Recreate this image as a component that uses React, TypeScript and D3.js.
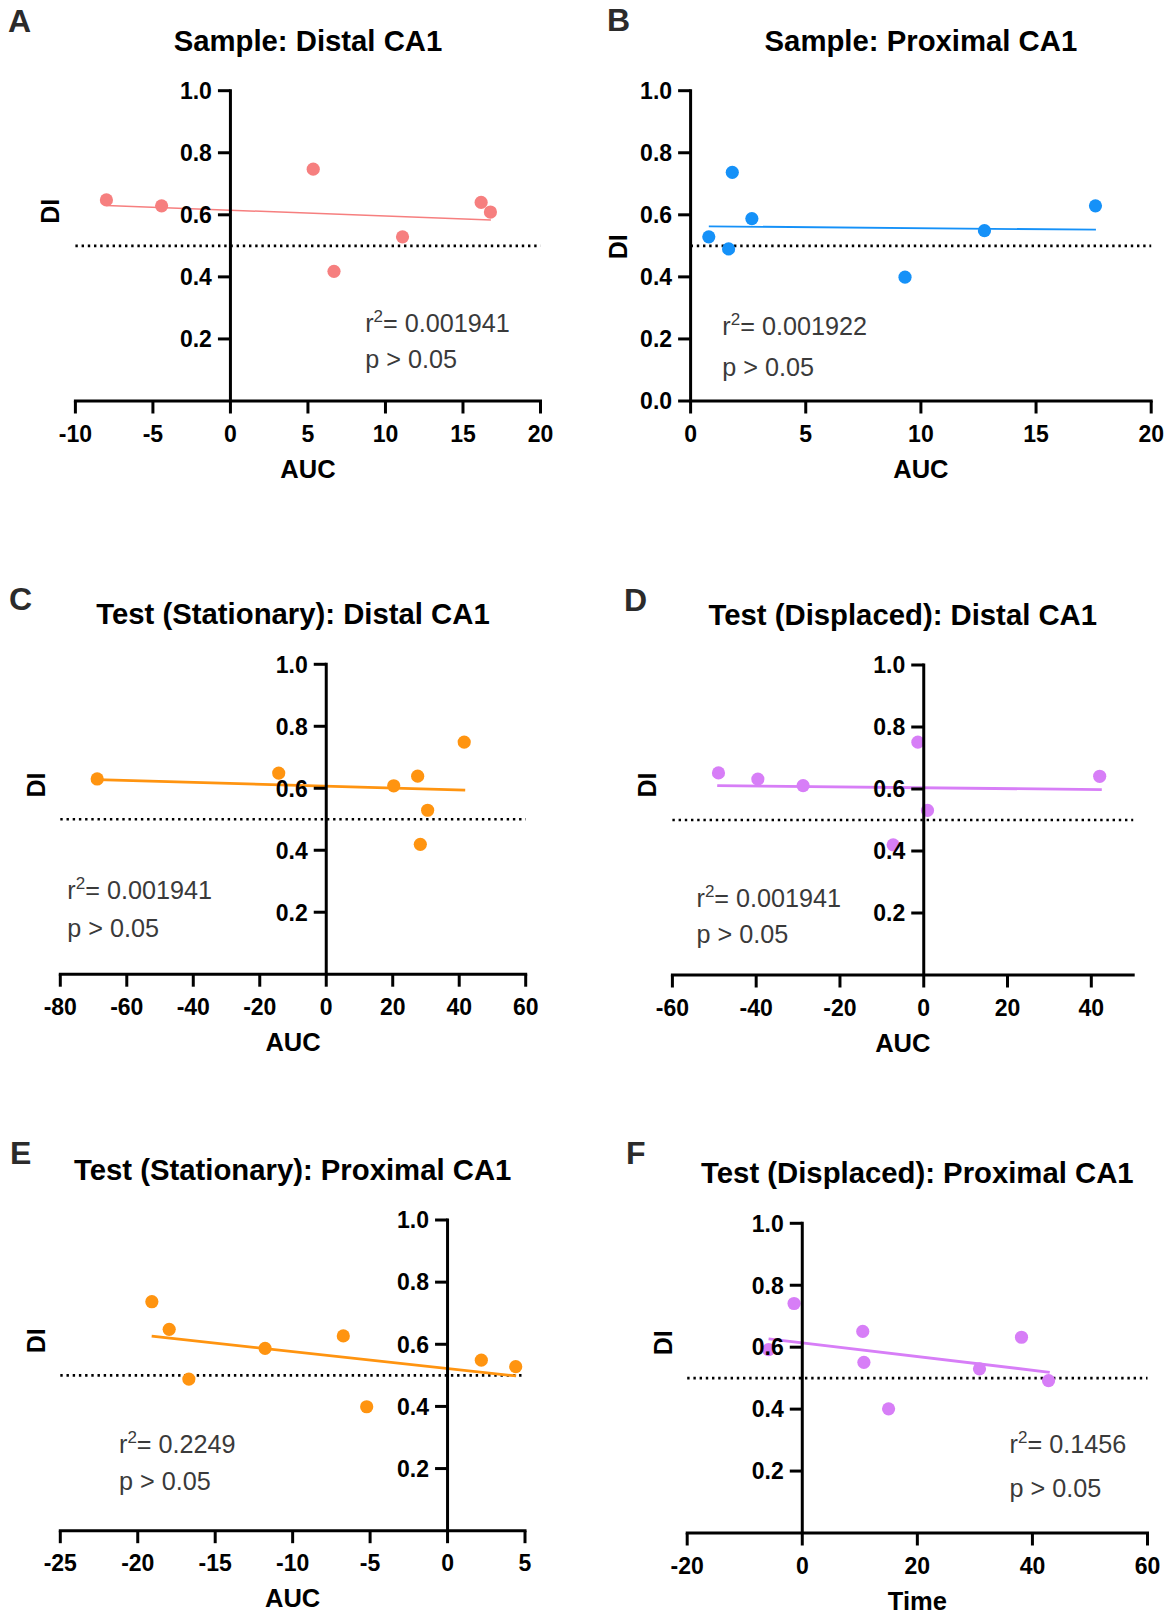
import React from 'react';
import * as d3 from 'd3';

// ---------- data ----------
const panelLetters = ['A', 'B', 'C', 'D', 'E', 'F'];
const panelTitles = [
  'Sample: Distal CA1',
  'Sample: Proximal CA1',
  'Test (Stationary): Distal CA1',
  'Test (Displaced): Distal CA1',
  'Test (Stationary): Proximal CA1',
  'Test (Displaced): Proximal CA1',
];
const xAxisTitles = ['AUC', 'AUC', 'AUC', 'AUC', 'AUC', 'Time'];
const yAxisTitle = 'DI';
const xDomains = [[-10, 20], [0, 20], [-80, 60], [-60, 50], [-25, 5], [-20, 60]];
const xTickValues = [
  [-10, -5, 0, 5, 10, 15, 20],
  [0, 5, 10, 15, 20],
  [-80, -60, -40, -20, 0, 20, 40, 60],
  [-60, -40, -20, 0, 20, 40],
  [-25, -20, -15, -10, -5, 0, 5],
  [-20, 0, 20, 40, 60],
];
const yDomain = [0, 1];
const yTicksFull = [0, 0.2, 0.4, 0.6, 0.8, 1.0];
const yTicksNoZero = [0.2, 0.4, 0.6, 0.8, 1.0];
const chanceLevel = 0.5;
const r2Texts = ['0.001941', '0.001922', '0.001941', '0.001941', '0.2249', '0.1456'];
const pTexts = ['p > 0.05', 'p > 0.05', 'p > 0.05', 'p > 0.05', 'p > 0.05', 'p > 0.05'];

// A: Sample, distal
const sampleDistalAUC = [-8.0, -4.44, 5.34, 6.68, 11.1, 16.17, 16.77];
const sampleDistalDI = [0.648, 0.629, 0.747, 0.418, 0.529, 0.64, 0.609];
const sampleDistalFitX = [-8.0, 16.8];
const sampleDistalFitY = [0.63, 0.583];
// B: Sample, proximal
const sampleProximalAUC = [0.79, 1.65, 1.81, 2.66, 9.31, 12.76, 17.58];
const sampleProximalDI = [0.529, 0.49, 0.737, 0.588, 0.399, 0.549, 0.629];
const sampleProximalFitX = [0.79, 17.6];
const sampleProximalFitY = [0.563, 0.552];
// C: Test stationary, distal
const statDistalAUC = [-68.9, -14.3, 20.3, 27.5, 28.3, 30.5, 41.5];
const statDistalDI = [0.63, 0.649, 0.608, 0.639, 0.419, 0.529, 0.749];
const statDistalFitX = [-68.9, 41.8];
const statDistalFitY = [0.628, 0.594];
// D: Test displaced, distal
const dispDistalAUC = [-49.0, -39.6, -28.8, -7.3, -1.4, 0.9, 42.0];
const dispDistalDI = [0.652, 0.632, 0.611, 0.42, 0.751, 0.531, 0.641];
const dispDistalFitX = [-49.3, 42.5];
const dispDistalFitY = [0.611, 0.598];
// E: Test stationary, proximal
const statProximalAUC = [-19.09, -17.97, -16.7, -11.78, -6.73, -5.22, 2.18, 4.4];
const statProximalDI = [0.737, 0.648, 0.488, 0.587, 0.627, 0.399, 0.549, 0.528];
const statProximalFitX = [-19.1, 4.43];
const statProximalFitY = [0.626, 0.498];
// F: Test displaced, proximal
const dispProximalTime = [-5.86, -1.43, 10.51, 10.71, 15.0, 30.8, 38.1, 42.8];
const dispProximalDI = [0.592, 0.741, 0.651, 0.551, 0.401, 0.53, 0.632, 0.492];
const dispProximalFitX = [-5.86, 43.0];
const dispProximalFitY = [0.627, 0.519];

const seriesX = [sampleDistalAUC, sampleProximalAUC, statDistalAUC, dispDistalAUC, statProximalAUC, dispProximalTime];
const seriesY = [sampleDistalDI, sampleProximalDI, statDistalDI, dispDistalDI, statProximalDI, dispProximalDI];
const fitX = [sampleDistalFitX, sampleProximalFitX, statDistalFitX, dispDistalFitX, statProximalFitX, dispProximalFitX];
const fitY = [sampleDistalFitY, sampleProximalFitY, statDistalFitY, dispDistalFitY, statProximalFitY, dispProximalFitY];

// ---------- layout & style ----------
const colors = ['#F67F7F', '#1591F8', '#FF9410', '#D77EF7', '#FF9410', '#D77EF7'];
const fitWidths = [1.5, 1.8, 2.8, 2.8, 2.8, 2.8];
const layouts = [
  { x0: 75.4, x1: 540.5, yb: 401, yt: 90.7, letter: [8, 32], di: [50.3, 211.3], ann: [365.2, 332.3, 368.3], zeroTick: false },
  { x0: 690.6, x1: 1151.2, yb: 401, yt: 90.7, letter: [607, 31], di: [617.7, 246.7], ann: [722.3, 335, 376], zeroTick: true },
  { x0: 60.3, x1: 525.7, yb: 974.2, yt: 664.3, letter: [9, 609.5], di: [36.2, 785], ann: [67.3, 899.3, 936.7], zeroTick: false },
  { x0: 672.4, x1: 1133.2, yb: 975, yt: 665, letter: [624, 610.5], di: [647.3, 785], ann: [696.5, 906.7, 943.3], zeroTick: false },
  { x0: 60.3, x1: 525, yb: 1530.7, yt: 1220, letter: [10, 1164], di: [36.2, 1340.7], ann: [119, 1453.3, 1490], zeroTick: false },
  { x0: 687.2, x1: 1147.5, yb: 1533, yt: 1223.3, letter: [626, 1163.5], di: [663.2, 1342.7], ann: [1009.6, 1453.3, 1496.7], zeroTick: false },
];

const FONT = "'Liberation Sans', Arial, Helvetica, sans-serif";
const AXIS_W = 3;
const TICK_LEN = 12.5;

function Panel({ i }: { i: number }) {
  const L = layouts[i];
  const x = d3.scaleLinear().domain(xDomains[i]).range([L.x0, L.x1]);
  const y = d3.scaleLinear().domain(yDomain).range([L.yb, L.yt]);
  const ax = x(0);
  const yTicks = L.zeroTick ? yTicksFull : yTicksNoZero;
  const line = d3
    .line<number>()
    .x((_, k) => x(fitX[i][k]))
    .y((_, k) => y(fitY[i][k]));
  const dotted = d3.line<number>().x((d) => x(d)).y(() => y(chanceLevel));
  const pts = seriesX[i].map((v, k) => [v, seriesY[i][k]]);
  const cx = (L.x0 + L.x1) / 2;
  return (
    <g>
      <text x={L.letter[0]} y={L.letter[1]} fontFamily={FONT} fontWeight="bold" fontSize={32} fill="#2b2b2b">
        {panelLetters[i]}
      </text>
      <text x={cx} y={L.yt - 40} textAnchor="middle" fontFamily={FONT} fontWeight="bold" fontSize={29.3} fill="#000">
        {panelTitles[i]}
      </text>
      {/* chance line */}
      <path d={dotted(xDomains[i]) || ''} stroke="#000" strokeWidth={2.6} strokeDasharray="2.4 3.8" fill="none" />
      {/* fit line */}
      <path d={line(fitX[i]) || ''} stroke={colors[i]} strokeWidth={fitWidths[i]} fill="none" />
      {/* points */}
      {pts.map((p, k) => (
        <circle key={k} cx={x(p[0])} cy={y(p[1])} r={6.6} fill={colors[i]} />
      ))}
      {/* y axis */}
      <line x1={ax} x2={ax} y1={L.yt - AXIS_W / 2} y2={L.yb} stroke="#000" strokeWidth={AXIS_W} />
      {yTicks.map((t) => (
        <g key={t}>
          <line x1={ax - TICK_LEN} x2={ax} y1={y(t)} y2={y(t)} stroke="#000" strokeWidth={AXIS_W} />
          <text x={ax - 18.5} y={y(t)} dy="0.36em" textAnchor="end" fontFamily={FONT} fontWeight="bold" fontSize={23} fill="#000">
            {d3.format('.1f')(t)}
          </text>
        </g>
      ))}
      {/* x axis */}
      <line x1={L.x0 - AXIS_W / 2} x2={L.x1 + AXIS_W / 2} y1={L.yb} y2={L.yb} stroke="#000" strokeWidth={AXIS_W} />
      {xTickValues[i].map((t) => (
        <g key={t}>
          <line x1={x(t)} x2={x(t)} y1={L.yb} y2={L.yb + TICK_LEN} stroke="#000" strokeWidth={AXIS_W} />
          <text x={x(t)} y={L.yb + 40.5} textAnchor="middle" fontFamily={FONT} fontWeight="bold" fontSize={23} fill="#000">
            {String(t)}
          </text>
        </g>
      ))}
      <text x={cx} y={L.yb + 76.5} textAnchor="middle" fontFamily={FONT} fontWeight="bold" fontSize={25.5} fill="#000">
        {xAxisTitles[i]}
      </text>
      <text
        transform={`translate(${L.di[0]},${L.di[1]}) rotate(-90)`}
        textAnchor="middle"
        dy="0.36em"
        fontFamily={FONT}
        fontWeight="bold"
        fontSize={25}
        fill="#000"
      >
        {yAxisTitle}
      </text>
      {/* annotation */}
      <text x={L.ann[0]} y={L.ann[1]} fontFamily={FONT} fontSize={25.2} fill="#3a3a3a">
        r<tspan fontSize={17} dy={-10}>2</tspan>
        <tspan dy={10}>= {r2Texts[i]}</tspan>
      </text>
      <text x={L.ann[0]} y={L.ann[2]} fontFamily={FONT} fontSize={25.2} fill="#3a3a3a">
        {pTexts[i]}
      </text>
    </g>
  );
}

export default function App() {
  return (
    <svg
      width={1175}
      height={1614}
      viewBox="0 0 1175 1614"
      style={{ position: 'absolute', left: 0, top: 0, display: 'block', background: '#fff' }}
    >
      <rect x={0} y={0} width={1175} height={1614} fill="#fff" />
      {panelLetters.map((_, i) => (
        <Panel key={i} i={i} />
      ))}
    </svg>
  );
}
